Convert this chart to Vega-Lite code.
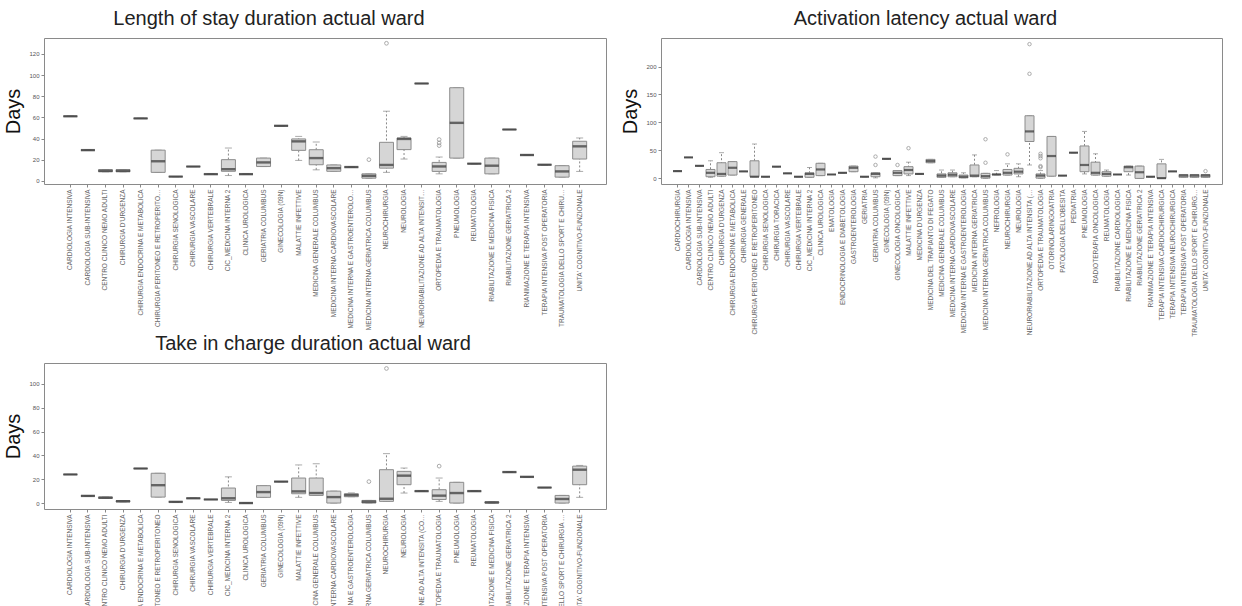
{
  "$schema": "https://vega.github.io/schema/vega-lite/v6.json",
  "padding": {"left": 3, "top": 8, "right": 0, "bottom": 0},
  "background": "white",
  "datasets": {
    "los": [
      {"ward": "CARDIOLOGIA INTENSIVA", "lower": 61, "q1": 61, "median": 61, "q3": 61, "upper": 61},
      {"ward": "CARDIOLOGIA SUB-INTENSIVA", "lower": 29, "q1": 29, "median": 29, "q3": 29, "upper": 29},
      {"ward": "CENTRO CLINICO NEMO ADULTI", "lower": 8.5, "q1": 8.5, "median": 9.5, "q3": 10.5, "upper": 10.5},
      {"ward": "CHIRURGIA D'URGENZA", "lower": 8.5, "q1": 8.5, "median": 9.5, "q3": 10.5, "upper": 10.5},
      {"ward": "CHIRURGIA ENDOCRINA E METABOLICA", "lower": 59, "q1": 59, "median": 59, "q3": 59, "upper": 59},
      {"ward": "CHIRURGIA PERITONEO E RETROPERITONEO", "lower": 8, "q1": 8, "median": 18.5, "q3": 29, "upper": 29},
      {"ward": "CHIRURGIA SENOLOGICA", "lower": 4, "q1": 4, "median": 4, "q3": 4, "upper": 4},
      {"ward": "CHIRURGIA VASCOLARE", "lower": 13.5, "q1": 13.5, "median": 13.5, "q3": 13.5, "upper": 13.5},
      {"ward": "CHIRURGIA VERTEBRALE", "lower": 6.3, "q1": 6.3, "median": 6.3, "q3": 6.3, "upper": 6.3},
      {"ward": "CIC_MEDICINA INTERNA 2", "lower": 5, "q1": 9, "median": 11, "q3": 20, "upper": 31},
      {"ward": "CLINICA UROLOGICA", "lower": 6.3, "q1": 6.3, "median": 6.3, "q3": 6.3, "upper": 6.3},
      {"ward": "GERIATRIA COLUMBUS", "lower": 13.5, "q1": 13.5, "median": 17.4, "q3": 21.5, "upper": 21.5},
      {"ward": "GINECOLOGIA (09N)", "lower": 52, "q1": 52, "median": 52, "q3": 52, "upper": 52},
      {"ward": "MALATTIE INFETTIVE", "lower": 19.3, "q1": 28.8, "median": 37.3, "q3": 39.6, "upper": 42},
      {"ward": "MEDICINA GENERALE COLUMBUS", "lower": 10.4, "q1": 15.2, "median": 21.5, "q3": 29.4, "upper": 36.7},
      {"ward": "MEDICINA INTERNA CARDIOVASCOLARE", "lower": 9, "q1": 9, "median": 12, "q3": 15, "upper": 15},
      {"ward": "MEDICINA INTERNA E GASTROENTEROLOGIA", "lower": 13, "q1": 13, "median": 13, "q3": 13, "upper": 13},
      {"ward": "MEDICINA INTERNA GERIATRICA COLUMBUS", "lower": 2.5, "q1": 2.5, "median": 4.7, "q3": 6.6, "upper": 6.6},
      {"ward": "NEUROCHIRURGIA", "lower": 8, "q1": 12, "median": 15, "q3": 36.4, "upper": 65.8},
      {"ward": "NEUROLOGIA", "lower": 20.6, "q1": 29.5, "median": 39.6, "q3": 40.5, "upper": 42},
      {"ward": "NEURORIABILITAZIONE AD ALTA INTENSITA (COD. 75)", "lower": 92, "q1": 92, "median": 92, "q3": 92, "upper": 92},
      {"ward": "ORTOPEDIA E TRAUMATOLOGIA", "lower": 6.6, "q1": 8.9, "median": 13.6, "q3": 17.4, "upper": 22.5},
      {"ward": "PNEUMOLOGIA", "lower": 21.5, "q1": 21.5, "median": 54.8, "q3": 88, "upper": 88},
      {"ward": "REUMATOLOGIA", "lower": 16.2, "q1": 16.2, "median": 16.2, "q3": 16.2, "upper": 16.2},
      {"ward": "RIABILITAZIONE E MEDICINA FISICA", "lower": 6.6, "q1": 6.6, "median": 14.3, "q3": 21.5, "upper": 21.5},
      {"ward": "RIABILITAZIONE GERIATRICA 2", "lower": 48.5, "q1": 48.5, "median": 48.5, "q3": 48.5, "upper": 48.5},
      {"ward": "RIANIMAZIONE E TERAPIA INTENSIVA", "lower": 24.4, "q1": 24.4, "median": 24.4, "q3": 24.4, "upper": 24.4},
      {"ward": "TERAPIA INTENSIVA POST OPERATORIA", "lower": 15.2, "q1": 15.2, "median": 15.2, "q3": 15.2, "upper": 15.2},
      {"ward": "TRAUMATOLOGIA DELLO SPORT E CHIRURGIA ARTICOLARE", "lower": 3.5, "q1": 3.5, "median": 8.9, "q3": 14.3, "upper": 14.3},
      {"ward": "UNITA' COGNITIVO-FUNZIONALE", "lower": 8.9, "q1": 20.6, "median": 32.6, "q3": 37.4, "upper": 40.5}
    ],
    "los_out": [
      {"ward": "MEDICINA INTERNA GERIATRICA COLUMBUS", "value": 20},
      {"ward": "NEUROCHIRURGIA", "value": 130},
      {"ward": "ORTOPEDIA E TRAUMATOLOGIA", "value": 33.3},
      {"ward": "ORTOPEDIA E TRAUMATOLOGIA", "value": 35.8},
      {"ward": "ORTOPEDIA E TRAUMATOLOGIA", "value": 39}
    ],
    "act": [
      {"ward": "CARDIOCHIRURGIA", "lower": 13, "q1": 13, "median": 13, "q3": 13, "upper": 13},
      {"ward": "CARDIOLOGIA INTENSIVA", "lower": 37.5, "q1": 37.5, "median": 37.5, "q3": 37.5, "upper": 37.5},
      {"ward": "CARDIOLOGIA SUB-INTENSIVA", "lower": 22.5, "q1": 22.5, "median": 22.5, "q3": 22.5, "upper": 22.5},
      {"ward": "CENTRO CLINICO NEMO ADULTI", "lower": 2, "q1": 3, "median": 10, "q3": 16, "upper": 31.5},
      {"ward": "CHIRURGIA D'URGENZA", "lower": 4, "q1": 4, "median": 8, "q3": 28, "upper": 46},
      {"ward": "CHIRURGIA ENDOCRINA E METABOLICA", "lower": 6, "q1": 6, "median": 19, "q3": 30, "upper": 30},
      {"ward": "CHIRURGIA GENERALE", "lower": 12.5, "q1": 12.5, "median": 12.5, "q3": 12.5, "upper": 12.5},
      {"ward": "CHIRURGIA PERITONEO E RETROPERITONEO", "lower": 3, "q1": 3, "median": 3, "q3": 31.5, "upper": 61.5},
      {"ward": "CHIRURGIA SENOLOGICA", "lower": 3, "q1": 3, "median": 3, "q3": 3, "upper": 3},
      {"ward": "CHIRURGIA TORACICA", "lower": 21, "q1": 21, "median": 21, "q3": 21, "upper": 21},
      {"ward": "CHIRURGIA VASCOLARE", "lower": 9, "q1": 9, "median": 9, "q3": 9, "upper": 9},
      {"ward": "CHIRURGIA VERTEBRALE", "lower": 3, "q1": 3, "median": 3, "q3": 3, "upper": 3},
      {"ward": "CIC_MEDICINA INTERNA 2", "lower": 2, "q1": 2, "median": 8, "q3": 10, "upper": 19.5},
      {"ward": "CLINICA UROLOGICA", "lower": 5, "q1": 5, "median": 16, "q3": 27, "upper": 27},
      {"ward": "EMATOLOGIA", "lower": 7, "q1": 7, "median": 7, "q3": 7, "upper": 7},
      {"ward": "ENDOCRINOLOGIA E DIABETOLOGIA", "lower": 10, "q1": 10, "median": 10, "q3": 10, "upper": 10},
      {"ward": "GASTROENTEROLOGIA", "lower": 12, "q1": 12, "median": 19, "q3": 22, "upper": 22},
      {"ward": "GERIATRIA", "lower": 3, "q1": 3, "median": 3, "q3": 3, "upper": 3},
      {"ward": "GERIATRIA COLUMBUS", "lower": 1, "q1": 3, "median": 8, "q3": 10, "upper": 10},
      {"ward": "GINECOLOGIA (09N)", "lower": 35, "q1": 35, "median": 35, "q3": 35, "upper": 35},
      {"ward": "GINECOLOGIA ONCOLOGICA", "lower": 5, "q1": 5, "median": 10, "q3": 14, "upper": 14},
      {"ward": "MALATTIE INFETTIVE", "lower": 5, "q1": 8, "median": 15, "q3": 21, "upper": 29},
      {"ward": "MEDICINA D'URGENZA", "lower": 8, "q1": 8, "median": 8, "q3": 8, "upper": 8},
      {"ward": "MEDICINA DEL TRAPIANTO DI FEGATO", "lower": 28, "q1": 28, "median": 31, "q3": 34, "upper": 34},
      {"ward": "MEDICINA GENERALE COLUMBUS", "lower": 2, "q1": 2, "median": 5, "q3": 8, "upper": 15},
      {"ward": "MEDICINA INTERNA CARDIOVASCOLARE", "lower": 3, "q1": 3, "median": 6.5, "q3": 10, "upper": 15},
      {"ward": "MEDICINA INTERNA E GASTROENTEROLOGIA", "lower": 1, "q1": 1, "median": 3, "q3": 6, "upper": 10},
      {"ward": "MEDICINA INTERNA GERIATRICA", "lower": 3, "q1": 3, "median": 5, "q3": 24, "upper": 42},
      {"ward": "MEDICINA INTERNA GERIATRICA COLUMBUS", "lower": 0, "q1": 0.5, "median": 4, "q3": 9, "upper": 9},
      {"ward": "NEFROLOGIA", "lower": 6.5, "q1": 6.5, "median": 7, "q3": 7.5, "upper": 14},
      {"ward": "NEUROCHIRURGIA", "lower": 6, "q1": 6, "median": 10, "q3": 16, "upper": 26},
      {"ward": "NEUROLOGIA", "lower": 3, "q1": 8, "median": 12, "q3": 18, "upper": 26},
      {"ward": "NEURORIABILITAZIONE AD ALTA INTENSITA (COD. 75)", "lower": 24, "q1": 66, "median": 84, "q3": 112, "upper": 112},
      {"ward": "ORTOPEDIA E TRAUMATOLOGIA", "lower": 0, "q1": 0.5, "median": 5, "q3": 8, "upper": 14},
      {"ward": "OTORINOLARINGOIATRIA", "lower": 4, "q1": 4, "median": 40, "q3": 75, "upper": 75},
      {"ward": "PATOLOGIA DELL'OBESITA", "lower": 5, "q1": 5, "median": 5, "q3": 5, "upper": 5},
      {"ward": "PEDIATRIA", "lower": 46, "q1": 46, "median": 46, "q3": 46, "upper": 46},
      {"ward": "PNEUMOLOGIA", "lower": 8, "q1": 12, "median": 24, "q3": 58, "upper": 84},
      {"ward": "RADIOTERAPIA ONCOLOGICA", "lower": 6, "q1": 6, "median": 10, "q3": 29, "upper": 44},
      {"ward": "REUMATOLOGIA", "lower": 4, "q1": 4, "median": 8, "q3": 12, "upper": 15},
      {"ward": "RIABILITAZIONE CARDIOLOGICA", "lower": 7, "q1": 7, "median": 7, "q3": 7, "upper": 7},
      {"ward": "RIABILITAZIONE E MEDICINA FISICA", "lower": 6, "q1": 12, "median": 20, "q3": 22, "upper": 22},
      {"ward": "RIABILITAZIONE GERIATRICA 2", "lower": 0, "q1": 0, "median": 11, "q3": 22, "upper": 22},
      {"ward": "RIANIMAZIONE E TERAPIA INTENSIVA", "lower": 3, "q1": 3, "median": 3, "q3": 3, "upper": 3},
      {"ward": "TERAPIA INTENSIVA CARDIOCHIRURGICA", "lower": 0, "q1": 0, "median": 0.5, "q3": 26, "upper": 34},
      {"ward": "TERAPIA INTENSIVA NEUROCHIRURGICA", "lower": 12.5, "q1": 12.5, "median": 12.5, "q3": 12.5, "upper": 12.5},
      {"ward": "TERAPIA INTENSIVA POST OPERATORIA", "lower": 2, "q1": 2, "median": 5, "q3": 7, "upper": 7},
      {"ward": "TRAUMATOLOGIA DELLO SPORT E CHIRURGIA ARTICOLARE", "lower": 2, "q1": 2, "median": 5, "q3": 7, "upper": 7},
      {"ward": "UNITA' COGNITIVO-FUNZIONALE", "lower": 2, "q1": 2, "median": 5, "q3": 7, "upper": 7}
    ],
    "act_out": [
      {"ward": "GERIATRIA COLUMBUS", "value": 24},
      {"ward": "GERIATRIA COLUMBUS", "value": 39},
      {"ward": "GINECOLOGIA ONCOLOGICA", "value": 24},
      {"ward": "MALATTIE INFETTIVE", "value": 54},
      {"ward": "MEDICINA INTERNA GERIATRICA COLUMBUS", "value": 28},
      {"ward": "MEDICINA INTERNA GERIATRICA COLUMBUS", "value": 70},
      {"ward": "NEUROCHIRURGIA", "value": 43},
      {"ward": "NEURORIABILITAZIONE AD ALTA INTENSITA (COD. 75)", "value": 187},
      {"ward": "NEURORIABILITAZIONE AD ALTA INTENSITA (COD. 75)", "value": 240},
      {"ward": "ORTOPEDIA E TRAUMATOLOGIA", "value": 20},
      {"ward": "ORTOPEDIA E TRAUMATOLOGIA", "value": 22},
      {"ward": "ORTOPEDIA E TRAUMATOLOGIA", "value": 36},
      {"ward": "ORTOPEDIA E TRAUMATOLOGIA", "value": 40},
      {"ward": "ORTOPEDIA E TRAUMATOLOGIA", "value": 44},
      {"ward": "UNITA' COGNITIVO-FUNZIONALE", "value": 13}
    ],
    "tic": [
      {"ward": "CARDIOLOGIA INTENSIVA", "lower": 24, "q1": 24, "median": 24, "q3": 24, "upper": 24},
      {"ward": "CARDIOLOGIA SUB-INTENSIVA", "lower": 6, "q1": 6, "median": 6, "q3": 6, "upper": 6},
      {"ward": "CENTRO CLINICO NEMO ADULTI", "lower": 4, "q1": 4, "median": 4.5, "q3": 5, "upper": 5},
      {"ward": "CHIRURGIA D'URGENZA", "lower": 1, "q1": 1, "median": 1.5, "q3": 2, "upper": 2},
      {"ward": "CHIRURGIA ENDOCRINA E METABOLICA", "lower": 29, "q1": 29, "median": 29, "q3": 29, "upper": 29},
      {"ward": "CHIRURGIA PERITONEO E RETROPERITONEO", "lower": 5, "q1": 5, "median": 15, "q3": 25, "upper": 25},
      {"ward": "CHIRURGIA SENOLOGICA", "lower": 1, "q1": 1, "median": 1, "q3": 1, "upper": 1},
      {"ward": "CHIRURGIA VASCOLARE", "lower": 4, "q1": 4, "median": 4, "q3": 4, "upper": 4},
      {"ward": "CHIRURGIA VERTEBRALE", "lower": 3, "q1": 3, "median": 3, "q3": 3, "upper": 3},
      {"ward": "CIC_MEDICINA INTERNA 2", "lower": 0.5, "q1": 2.2, "median": 4, "q3": 12.6, "upper": 22},
      {"ward": "CLINICA UROLOGICA", "lower": 0, "q1": 0, "median": 0, "q3": 0, "upper": 0},
      {"ward": "GERIATRIA COLUMBUS", "lower": 4.8, "q1": 4.8, "median": 9.2, "q3": 14.6, "upper": 14.6},
      {"ward": "GINECOLOGIA (09N)", "lower": 18, "q1": 18, "median": 18, "q3": 18, "upper": 18},
      {"ward": "MALATTIE INFETTIVE", "lower": 4.8, "q1": 7.8, "median": 9.8, "q3": 21, "upper": 32},
      {"ward": "MEDICINA GENERALE COLUMBUS", "lower": 6.4, "q1": 6.4, "median": 8.4, "q3": 21, "upper": 33},
      {"ward": "MEDICINA INTERNA CARDIOVASCOLARE", "lower": 0, "q1": 0, "median": 5, "q3": 10, "upper": 10},
      {"ward": "MEDICINA INTERNA E GASTROENTEROLOGIA", "lower": 5.3, "q1": 5.3, "median": 6.7, "q3": 7.8, "upper": 8.5},
      {"ward": "MEDICINA INTERNA GERIATRICA COLUMBUS", "lower": 0, "q1": 0, "median": 1.1, "q3": 2.2, "upper": 2.2},
      {"ward": "NEUROCHIRURGIA", "lower": 1.4, "q1": 1.4, "median": 3.6, "q3": 28, "upper": 41.5},
      {"ward": "NEUROLOGIA", "lower": 8.4, "q1": 15.4, "median": 23, "q3": 26.6, "upper": 29.4},
      {"ward": "NEURORIABILITAZIONE AD ALTA INTENSITA (COD. 75)", "lower": 10, "q1": 10, "median": 10, "q3": 10, "upper": 10},
      {"ward": "ORTOPEDIA E TRAUMATOLOGIA", "lower": 1.4, "q1": 3, "median": 6.2, "q3": 11.2, "upper": 21},
      {"ward": "PNEUMOLOGIA", "lower": 0, "q1": 0, "median": 8.4, "q3": 17.4, "upper": 17.4},
      {"ward": "REUMATOLOGIA", "lower": 10, "q1": 10, "median": 10, "q3": 10, "upper": 10},
      {"ward": "RIABILITAZIONE E MEDICINA FISICA", "lower": 0, "q1": 0, "median": 0.5, "q3": 1, "upper": 1},
      {"ward": "RIABILITAZIONE GERIATRICA 2", "lower": 26, "q1": 26, "median": 26, "q3": 26, "upper": 26},
      {"ward": "RIANIMAZIONE E TERAPIA INTENSIVA", "lower": 22, "q1": 22, "median": 22, "q3": 22, "upper": 22},
      {"ward": "TERAPIA INTENSIVA POST OPERATORIA", "lower": 13, "q1": 13, "median": 13, "q3": 13, "upper": 13},
      {"ward": "TRAUMATOLOGIA DELLO SPORT E CHIRURGIA ARTICOLARE", "lower": 0, "q1": 0, "median": 3.4, "q3": 6.4, "upper": 6.4},
      {"ward": "UNITA' COGNITIVO-FUNZIONALE", "lower": 4.8, "q1": 15.4, "median": 28, "q3": 31, "upper": 31.6}
    ],
    "tic_out": [
      {"ward": "MEDICINA INTERNA GERIATRICA COLUMBUS", "value": 18},
      {"ward": "NEUROCHIRURGIA", "value": 113},
      {"ward": "ORTOPEDIA E TRAUMATOLOGIA", "value": 31}
    ]
  },
  "columns": 2,
  "bounds": "flush",
  "spacing": {"row": 179, "column": 55},
  "concat": [
    {
      "width": 562, "height": 146,
      "title": {"text": "Length of stay duration actual ward", "dx": -56},
      "encoding": {
        "x": {"field": "ward", "type": "nominal", "title": null, "scale": {"paddingInner": 0, "paddingOuter": 1}, "axis": {"bandPosition": 0.5, "labelLimit": 142}}
      },
      "layer": [
        {"data": {"name": "los"}, "mark": {"type": "rule", "strokeDash": [2, 2], "color": "#888", "strokeWidth": 1},
         "encoding": {"y": {"field": "lower", "type": "quantitative", "title": "Days", "scale": {"domain": [-3, 135], "nice": false, "zero": false}, "axis": {"values": [0, 20, 40, 60, 80, 100, 120]}}, "y2": {"field": "upper"}}},
        {"data": {"name": "los"}, "mark": {"type": "tick", "size": 7, "thickness": 1, "color": "#888"},
         "encoding": {"y": {"field": "lower", "type": "quantitative", "title": "Days", "axis": {"values": [0, 20, 40, 60, 80, 100, 120]}}}},
        {"data": {"name": "los"}, "mark": {"type": "tick", "size": 7, "thickness": 1, "color": "#888"},
         "encoding": {"y": {"field": "upper", "type": "quantitative", "title": "Days", "axis": {"values": [0, 20, 40, 60, 80, 100, 120]}}}},
        {"data": {"name": "los"}, "mark": {"type": "bar", "size": 14, "fill": "#d6d6d6", "stroke": "#8c8c8c", "strokeWidth": 1},
         "encoding": {"y": {"field": "q1", "type": "quantitative", "title": "Days", "axis": {"values": [0, 20, 40, 60, 80, 100, 120]}}, "y2": {"field": "q3"}}},
        {"data": {"name": "los"}, "mark": {"type": "tick", "size": 14, "thickness": 2.4, "color": "#333"},
         "encoding": {"y": {"field": "median", "type": "quantitative", "title": "Days", "axis": {"values": [0, 20, 40, 60, 80, 100, 120]}}}},
        {"data": {"name": "los_out"}, "mark": {"type": "point", "shape": "circle", "filled": false, "size": 14, "color": "#888", "strokeWidth": 1},
         "encoding": {"y": {"field": "value", "type": "quantitative", "title": "Days", "axis": {"values": [0, 20, 40, 60, 80, 100, 120]}}}}
      ]
    },
    {
      "width": 561, "height": 146,
      "title": {"text": "Activation latency actual ward", "dx": -16},
      "encoding": {
        "x": {"field": "ward", "type": "nominal", "title": null, "scale": {"paddingInner": 0, "paddingOuter": 1}, "axis": {"bandPosition": 0.5, "labelLimit": 148}}
      },
      "layer": [
        {"data": {"name": "act"}, "mark": {"type": "rule", "strokeDash": [2, 2], "color": "#888", "strokeWidth": 1},
         "encoding": {"y": {"field": "lower", "type": "quantitative", "title": "Days", "scale": {"domain": [-10, 251], "nice": false, "zero": false}, "axis": {"values": [0, 50, 100, 150, 200]}}, "y2": {"field": "upper"}}},
        {"data": {"name": "act"}, "mark": {"type": "tick", "size": 5, "thickness": 1, "color": "#888"},
         "encoding": {"y": {"field": "lower", "type": "quantitative", "title": "Days", "axis": {"values": [0, 50, 100, 150, 200]}}}},
        {"data": {"name": "act"}, "mark": {"type": "tick", "size": 5, "thickness": 1, "color": "#888"},
         "encoding": {"y": {"field": "upper", "type": "quantitative", "title": "Days", "axis": {"values": [0, 50, 100, 150, 200]}}}},
        {"data": {"name": "act"}, "mark": {"type": "bar", "size": 9, "fill": "#d6d6d6", "stroke": "#8c8c8c", "strokeWidth": 1},
         "encoding": {"y": {"field": "q1", "type": "quantitative", "title": "Days", "axis": {"values": [0, 50, 100, 150, 200]}}, "y2": {"field": "q3"}}},
        {"data": {"name": "act"}, "mark": {"type": "tick", "size": 9, "thickness": 2.2, "color": "#333"},
         "encoding": {"y": {"field": "median", "type": "quantitative", "title": "Days", "axis": {"values": [0, 50, 100, 150, 200]}}}},
        {"data": {"name": "act_out"}, "mark": {"type": "point", "shape": "circle", "filled": false, "size": 12, "color": "#888", "strokeWidth": 1},
         "encoding": {"y": {"field": "value", "type": "quantitative", "title": "Days", "axis": {"values": [0, 50, 100, 150, 200]}}}}
      ]
    },
    {
      "width": 562, "height": 146,
      "title": {"text": "Take in charge duration actual ward", "dx": -12},
      "encoding": {
        "x": {"field": "ward", "type": "nominal", "title": null, "scale": {"paddingInner": 0, "paddingOuter": 1}, "axis": {"bandPosition": 0.5, "labelLimit": 160}}
      },
      "layer": [
        {"data": {"name": "tic"}, "mark": {"type": "rule", "strokeDash": [2, 2], "color": "#888", "strokeWidth": 1},
         "encoding": {"y": {"field": "lower", "type": "quantitative", "title": "Days", "scale": {"domain": [-5, 117.6], "nice": false, "zero": false}, "axis": {"values": [0, 20, 40, 60, 80, 100]}}, "y2": {"field": "upper"}}},
        {"data": {"name": "tic"}, "mark": {"type": "tick", "size": 7, "thickness": 1, "color": "#888"},
         "encoding": {"y": {"field": "lower", "type": "quantitative", "title": "Days", "axis": {"values": [0, 20, 40, 60, 80, 100]}}}},
        {"data": {"name": "tic"}, "mark": {"type": "tick", "size": 7, "thickness": 1, "color": "#888"},
         "encoding": {"y": {"field": "upper", "type": "quantitative", "title": "Days", "axis": {"values": [0, 20, 40, 60, 80, 100]}}}},
        {"data": {"name": "tic"}, "mark": {"type": "bar", "size": 14, "fill": "#d6d6d6", "stroke": "#8c8c8c", "strokeWidth": 1},
         "encoding": {"y": {"field": "q1", "type": "quantitative", "title": "Days", "axis": {"values": [0, 20, 40, 60, 80, 100]}}, "y2": {"field": "q3"}}},
        {"data": {"name": "tic"}, "mark": {"type": "tick", "size": 14, "thickness": 2.4, "color": "#333"},
         "encoding": {"y": {"field": "median", "type": "quantitative", "title": "Days", "axis": {"values": [0, 20, 40, 60, 80, 100]}}}},
        {"data": {"name": "tic_out"}, "mark": {"type": "point", "shape": "circle", "filled": false, "size": 14, "color": "#888", "strokeWidth": 1},
         "encoding": {"y": {"field": "value", "type": "quantitative", "title": "Days", "axis": {"values": [0, 20, 40, 60, 80, 100]}}}}
      ]
    }
  ],
  "config": {
    "view": {"stroke": "#8a8a8a", "strokeWidth": 1},
    "axis": {"grid": false, "domain": false, "tickColor": "#888", "tickSize": 3, "labelColor": "#555", "labelFont": "Liberation Sans", "titleFont": "Liberation Sans"},
    "axisY": {"labelFontSize": 6, "titleFontSize": 20, "titleFontWeight": "normal", "titleColor": "#111", "titlePadding": 5, "labelPadding": 2, "labelOverlap": false},
    "axisX": {"labelAngle": -90, "labelFontSize": 6.5, "labelPadding": 2, "labelColor": "#666"},
    "title": {"fontSize": 20, "font": "Liberation Sans", "fontWeight": "normal", "color": "#222", "offset": 9}
  }
}
